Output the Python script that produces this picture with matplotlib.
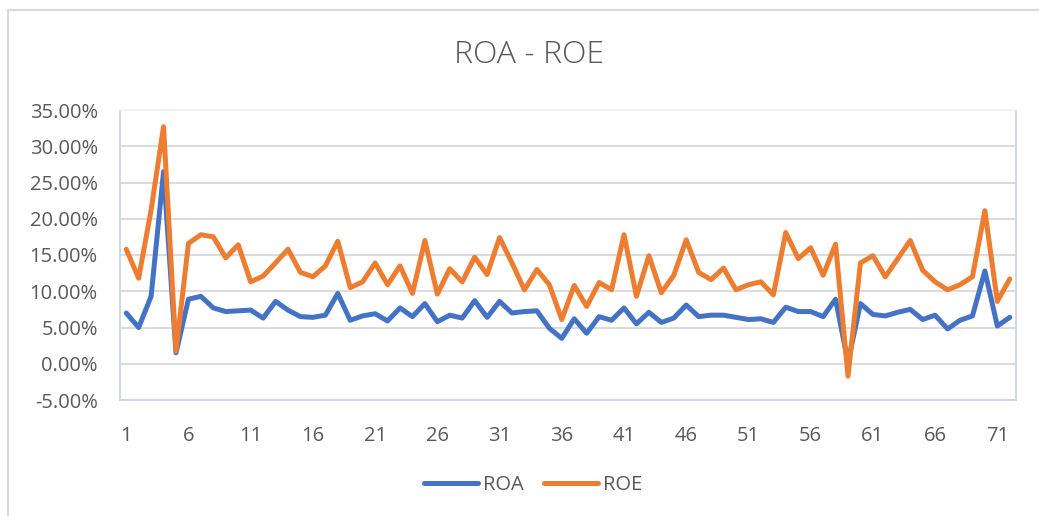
import numpy as np
import matplotlib
matplotlib.use("Agg")
import matplotlib.pyplot as plt
from matplotlib.patches import Rectangle
from matplotlib.ticker import FuncFormatter

# Data (percent)
periods = list(range(1, 73))
roa = [7.0, 5.0, 9.3, 26.5, 1.5, 8.9, 9.3, 7.7, 7.2, 7.3,
       7.4, 6.3, 8.6, 7.4, 6.5, 6.4, 6.7, 9.7, 6.0, 6.6,
       6.9, 5.9, 7.7, 6.5, 8.3, 5.8, 6.7, 6.3, 8.7, 6.4,
       8.6, 7.0, 7.2, 7.3, 4.9, 3.5, 6.2, 4.2, 6.5, 6.0,
       7.7, 5.5, 7.1, 5.7, 6.3, 8.1, 6.5, 6.7, 6.7, 6.4,
       6.1, 6.2, 5.7, 7.8, 7.2, 7.2, 6.5, 8.9, 0.2, 8.3,
       6.8, 6.6, 7.1, 7.5, 6.1, 6.7, 4.8, 6.0, 6.6, 12.8,
       5.2, 6.4]
roe = [15.8, 11.8, 21.2, 32.7, 1.7, 16.6, 17.8, 17.5, 14.6, 16.4,
       11.3, 12.1, 13.9, 15.8, 12.6, 12.0, 13.5, 16.9, 10.5, 11.3,
       13.9, 10.9, 13.5, 9.7, 17.0, 9.6, 13.1, 11.3, 14.7, 12.3,
       17.4, 13.9, 10.2, 13.0, 10.9, 6.1, 10.8, 7.9, 11.2, 10.2,
       17.8, 9.3, 14.9, 9.8, 12.2, 17.1, 12.6, 11.6, 13.2, 10.2,
       10.9, 11.3, 9.5, 18.1, 14.5, 16.0, 12.2, 16.5, -1.7, 13.9,
       14.9, 12.0, 14.5, 17.0, 12.9, 11.3, 10.2, 10.9, 12.0, 21.1,
       8.6, 11.7]
xticks = list(range(1, 72, 5))
yticks = list(range(-5, 36, 5))

text_color = '#595959'
plt.rcParams['font.family'] = ['Open Sans', 'DejaVu Sans']

fig = plt.figure(figsize=(10.39, 5.16), dpi=100)
fig.patch.set_facecolor('white')

# outer chart frame (only left/top visible in the reference)
fig.patches.append(Rectangle((8/1039, -0.1), 1.2, 1 - 10/516 + 0.1,
                             transform=fig.transFigure, fill=False,
                             edgecolor='#D9D9D9', linewidth=1.5))

ax = fig.add_axes([120/1039, 1 - 400/516, (1016 - 120)/1039, (400 - 110)/516])
ax.plot(periods, roa, color='#4472C4', linewidth=3.6, label='ROA',
        solid_joinstyle='round', solid_capstyle='round')
ax.plot(periods, roe, color='#ED7D31', linewidth=3.6, label='ROE',
        solid_joinstyle='round', solid_capstyle='round')

ax.set_xlim(0.5, 72.5)
ax.set_ylim(-5, 35)
ax.set_xticks(xticks)
ax.set_yticks(yticks)
ax.yaxis.set_major_formatter(FuncFormatter(lambda v, p: '%.2f%%' % v))
ax.grid(axis='y', color='#D9D9D9', linewidth=1.3)
ax.set_axisbelow(True)
ax.tick_params(axis='both', length=0, labelsize=14.5, colors=text_color)
ax.tick_params(axis='x', pad=19)
ax.tick_params(axis='y', pad=16)

for side in ['left', 'bottom', 'right']:
    ax.spines[side].set_color('#C8D5EE')
    ax.spines[side].set_linewidth(1.3)
ax.spines['top'].set_color('#EEF0F6')
ax.spines['top'].set_linewidth(1.3)

fig.text(529/1039, 1 - 55/516, 'ROA - ROE', ha='center', va='center',
         fontsize=23, color=text_color, fontweight='light')

fig.legend(loc='center', bbox_to_anchor=(533/1039, 1 - 485/516), ncol=2,
           frameon=False, fontsize=14.5, labelcolor=text_color,
           handlelength=2.7, handletextpad=0.25, columnspacing=1.0)

plt.savefig('out.png', dpi=100)
